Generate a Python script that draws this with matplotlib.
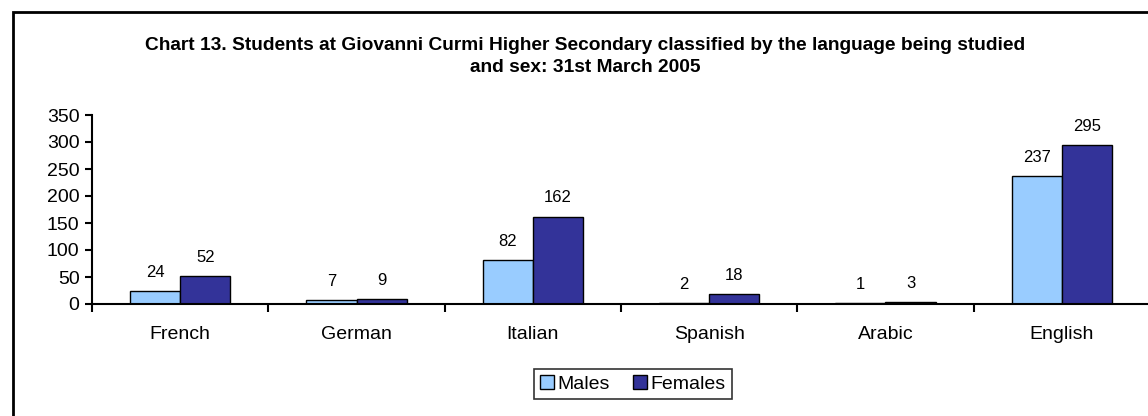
import matplotlib
matplotlib.use("Agg")
import matplotlib.pyplot as plt
import numpy as np
from matplotlib.patches import Rectangle

categories = ["French", "German", "Italian", "Spanish", "Arabic", "English"]
males = [24, 7, 82, 2, 1, 237]
females = [52, 9, 162, 18, 3, 295]
yticks = [0, 50, 100, 150, 200, 250, 300, 350]

plt.rcParams['font.family'] = ['Liberation Sans', 'DejaVu Sans']

W, H = 1148, 416
fig = plt.figure(figsize=(W / 100, H / 100), dpi=100)
fig.patch.set_facecolor("white")

# outer chart border (extends beyond right/bottom edges)
fig.add_artist(Rectangle((13 / W, -0.1), 1.2, (H - 11.5) / H + 0.1,
                         transform=fig.transFigure, fill=False,
                         edgecolor="black", linewidth=2.0, clip_on=False))

left, right = 92 / W, 1150 / W
bottom, top = (H - 304) / H, (H - 115) / H
ax = fig.add_axes([left, bottom, right - left, top - bottom])

x = np.arange(len(categories))
bw = 0.285
b1 = ax.bar(x - bw / 2, males, bw, color="#99CCFF", edgecolor="black",
            linewidth=1.0, label="Males")
b2 = ax.bar(x + bw / 2, females, bw, color="#333399", edgecolor="black",
            linewidth=1.0, label="Females")

for bars, vals in ((b1, males), (b2, females)):
    for rect, v in zip(bars, vals):
        ax.annotate(str(v), (rect.get_x() + rect.get_width() / 2, v),
                    xytext=(0, 8), textcoords="offset points",
                    ha="center", va="bottom", fontsize=12)

ax.set_xlim(-0.5, len(categories) - 0.5)
ax.set_ylim(0, 350)
ax.set_yticks(yticks)
ax.tick_params(axis="y", labelsize=14, length=5, width=1.5, direction="out", pad=4)

ax.set_xticks(np.arange(-0.5, len(categories), 1.0))
ax.set_xticklabels([])
ax.set_xticks(x, minor=True)
ax.set_xticklabels(categories, minor=True)
ax.tick_params(axis="x", which="major", length=6, width=1.5, direction="out")
ax.tick_params(axis="x", which="minor", length=0, labelsize=14, pad=16)

for s in ("top", "right"):
    ax.spines[s].set_visible(False)
for s in ("left", "bottom"):
    ax.spines[s].set_linewidth(1.5)
ax.spines["bottom"].set_clip_on(False)

fig.text(585 / W, (H - 45) / H,
         "Chart 13. Students at Giovanni Curmi Higher Secondary classified by the language being studied",
         ha="center", va="center", fontsize=13.8, fontweight="bold")
fig.text(585 / W, (H - 67) / H, "and sex: 31st March 2005",
         ha="center", va="center", fontsize=13.8, fontweight="bold")

leg = fig.legend(loc="center", bbox_to_anchor=(633 / W, (H - 384) / H),
                 ncol=2, fontsize=14, frameon=True, fancybox=False,
                 edgecolor="black", handlelength=0.7, handleheight=0.7,
                 handletextpad=0.2, columnspacing=1.2, borderpad=0.3,
                 borderaxespad=0)
leg.get_frame().set_linewidth(1.2)

fig.savefig("out.png", dpi=100, facecolor="white")
